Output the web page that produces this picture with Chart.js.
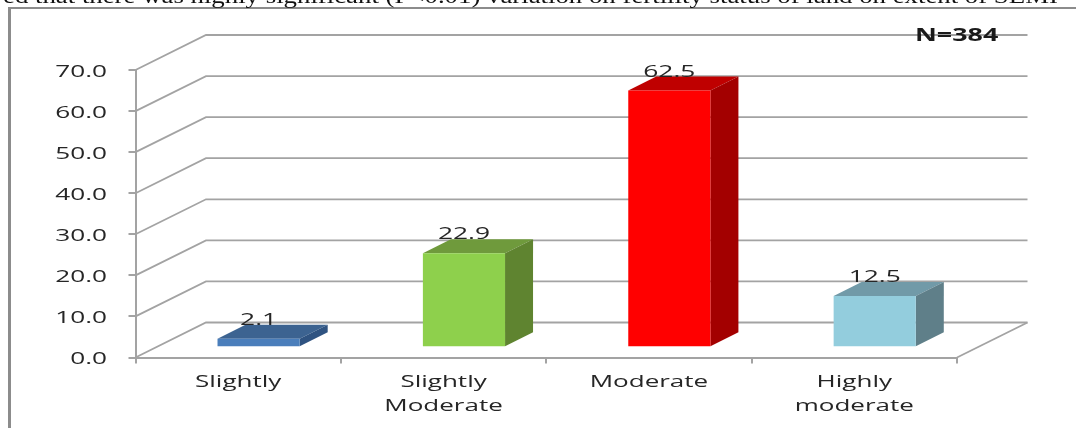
<!DOCTYPE html>
<html>
<head>
<meta charset="utf-8">
<style>
html, body { margin: 0; padding: 0; background: #fff; }
#wrap { position: relative; width: 1076px; height: 428px; overflow: hidden; }
</style>
<script src="https://cdn.jsdelivr.net/npm/chart.js@4"></script>
</head>
<body>
<div id="wrap"><canvas id="myChart" width="1076" height="428"></canvas></div>
<script>
const categories = [['Slightly'], ['Slightly', 'Moderate'], ['Moderate'], ['Highly', 'moderate']];
const values = [2.1, 22.9, 62.5, 12.5];
const valueLabels = ['2.1', '22.9', '62.5', '12.5'];
const frontColors = ['#4a7ebb', '#8ed04c', '#ff0000', '#93cddd'];
const topColors = ['#3c6391', '#6f9a3c', '#bf0000', '#719aa8'];
const sideColors = ['#2f5381', '#5f8430', '#a30000', '#5f7f89'];
const noteText = 'N=384';
const captionText = 'ed that there was highly significant (P<0.01) variation on fertility status of land on extent of SEMI';

const wallDepth = { x: 70.5, y: -35 };
const barShift = { x: 20.4, y: -10.2 };
const barDepth = { x: 28, y: -14 };
const lineGrey = '#a3a3a3';
const textColor = '#262626';
const labelFont = '17px "Open Sans"';

// text in this chart is wide, so it is drawn squeezed out along x
function wideText(ctx, text, x, y, stretch, align) {
    ctx.save();
    ctx.translate(x, y);
    ctx.scale(stretch, 1);
    ctx.textAlign = align;
    ctx.textBaseline = 'alphabetic';
    ctx.fillText(text, 0, 0);
    ctx.restore();
}

// walls and floor of the box, behind everything else
const wallsPlugin = {
    id: 'walls',
    beforeDatasetsDraw(chart) {
        const ctx = chart.ctx;
        const y = chart.scales.y;
        const area = chart.chartArea;
        ctx.save();
        ctx.strokeStyle = lineGrey;
        ctx.lineWidth = 1.8;
        y.ticks.forEach(function (t) {
            const py = y.getPixelForValue(t.value);
            ctx.beginPath();
            ctx.moveTo(area.left, py);
            ctx.lineTo(area.left + wallDepth.x, py + wallDepth.y);
            ctx.lineTo(area.right + wallDepth.x, py + wallDepth.y);
            ctx.stroke();
        });
        const py0 = y.getPixelForValue(0);
        ctx.beginPath();
        ctx.moveTo(area.right, py0);
        ctx.lineTo(area.right + wallDepth.x, py0 + wallDepth.y);
        ctx.stroke();
        ctx.restore();
    }
};

// the flat bars get pushed into the box, then their top and side are added
const boxBarsPlugin = {
    id: 'boxBars',
    beforeDatasetDraw(chart) {
        const ctx = chart.ctx;
        const bars = chart.getDatasetMeta(0).data;
        ctx.save();
        ctx.translate(barShift.x, barShift.y);
        bars.forEach(function (bar, i) {
            const left = bar.x - bar.width / 2;
            const right = bar.x + bar.width / 2;
            ctx.fillStyle = topColors[i];
            ctx.beginPath();
            ctx.moveTo(left, bar.y);
            ctx.lineTo(left + barDepth.x, bar.y + barDepth.y);
            ctx.lineTo(right + barDepth.x, bar.y + barDepth.y);
            ctx.lineTo(right, bar.y);
            ctx.closePath();
            ctx.fill();
            ctx.fillStyle = sideColors[i];
            ctx.beginPath();
            ctx.moveTo(right, bar.y);
            ctx.lineTo(right + barDepth.x, bar.y + barDepth.y);
            ctx.lineTo(right + barDepth.x, bar.base + barDepth.y);
            ctx.lineTo(right, bar.base);
            ctx.closePath();
            ctx.fill();
        });
    },
    afterDatasetDraw(chart) {
        chart.ctx.restore();
    },
    afterDatasetsDraw(chart) {
        const ctx = chart.ctx;
        const bars = chart.getDatasetMeta(0).data;
        ctx.save();
        ctx.fillStyle = textColor;
        ctx.font = labelFont;
        bars.forEach(function (bar, i) {
            wideText(ctx, valueLabels[i], bar.x + barShift.x, bar.y + barShift.y + barDepth.y, 1.55, 'center');
        });
        ctx.restore();
    }
};

// axis labels come from the scales, only the drawing is done here
const axisLabelsPlugin = {
    id: 'axisLabels',
    afterDraw(chart) {
        const ctx = chart.ctx;
        const x = chart.scales.x;
        const y = chart.scales.y;
        ctx.save();
        ctx.fillStyle = textColor;
        ctx.font = labelFont;
        y.ticks.forEach(function (t) {
            wideText(ctx, t.label, 107, y.getPixelForValue(t.value) + 6.5, 1.54, 'right');
        });
        categories.forEach(function (lines, i) {
            lines.forEach(function (line, j) {
                wideText(ctx, line, x.getPixelForValue(i), 387 + j * 23.5, 1.53, 'center');
            });
        });
        ctx.restore();
    }
};

// page furniture: frame, running text above it, sample size note
const framePlugin = {
    id: 'frame',
    beforeDraw(chart) {
        const ctx = chart.ctx;
        ctx.save();
        ctx.fillStyle = '#fff';
        ctx.fillRect(0, 0, chart.width, chart.height);
        ctx.fillStyle = '#8c8c8c';
        ctx.fillRect(8, 7, 3, 421);
        ctx.fillRect(8, 7, 1068, 2);
        ctx.fillStyle = '#111';
        ctx.font = '20px "Liberation Serif"';
        wideText(ctx, captionText, 3, 2.5, 1.34, 'left');
        ctx.restore();
    },
    afterDraw(chart) {
        const ctx = chart.ctx;
        ctx.save();
        ctx.fillStyle = '#1a1a1a';
        ctx.font = 'bold 17px "Open Sans"';
        wideText(ctx, noteText, 915, 41, 1.58, 'left');
        ctx.restore();
    }
};

const myChart = new Chart(document.getElementById('myChart').getContext('2d'), {
    type: 'bar',
    data: {
        labels: categories,
        datasets: [{
            data: values,
            backgroundColor: frontColors,
            borderWidth: 0,
            categoryPercentage: 0.4,
            barPercentage: 1
        }]
    },
    options: {
        responsive: false,
        animation: false,
        layout: { padding: { left: 0, right: 119, top: 70, bottom: 0 } },
        plugins: { legend: { display: false }, tooltip: { enabled: false } },
        scales: {
            x: {
                grid: {
                    drawOnChartArea: false,
                    color: lineGrey,
                    lineWidth: 2,
                    tickLength: 6
                },
                border: { color: lineGrey, width: 2 },
                ticks: { display: false },
                afterFit(scale) { scale.height = 70.5; }
            },
            y: {
                min: 0,
                max: 70,
                ticks: {
                    display: false,
                    stepSize: 10,
                    callback: function (v) { return v.toFixed(1); }
                },
                grid: {
                    drawOnChartArea: false,
                    color: lineGrey,
                    lineWidth: 2,
                    tickLength: 7
                },
                border: { color: lineGrey, width: 2 },
                afterFit(scale) { scale.width = 135.5; }
            }
        }
    },
    plugins: [framePlugin, wallsPlugin, boxBarsPlugin, axisLabelsPlugin]
});
</script>
</body>
</html>
